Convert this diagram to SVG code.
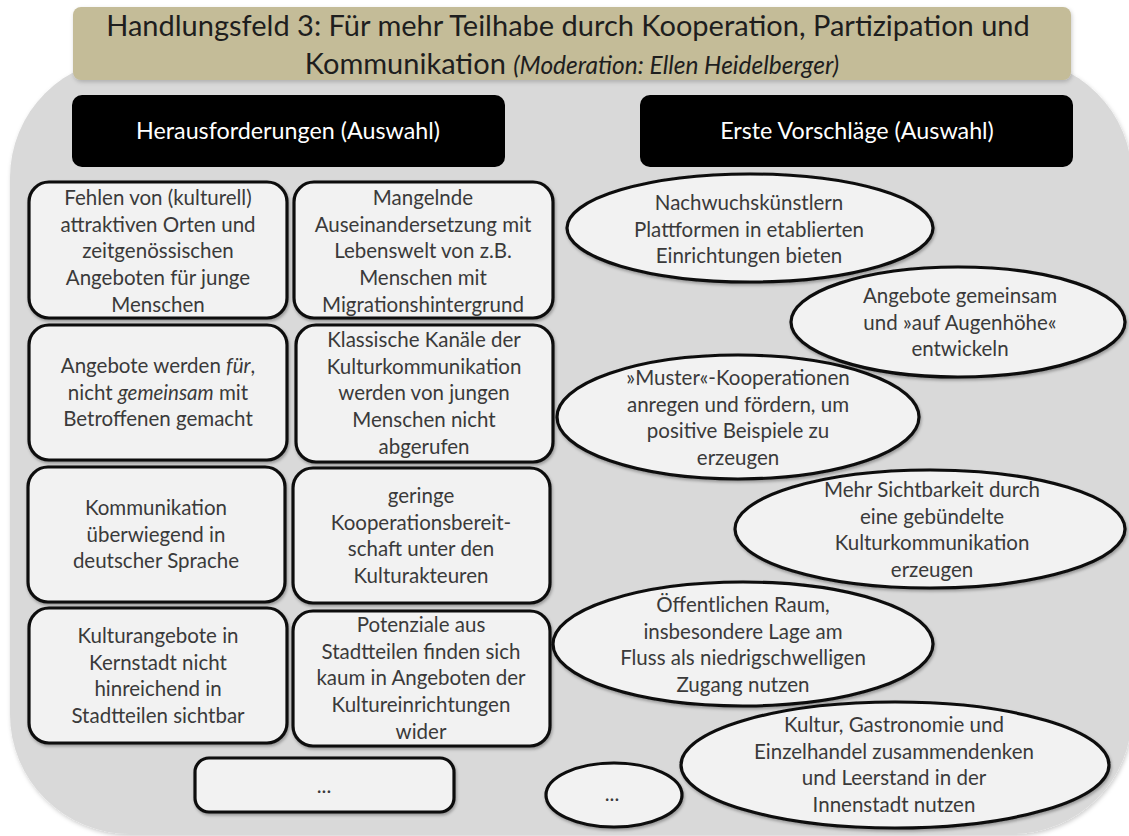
<svg xmlns="http://www.w3.org/2000/svg" width="1129" height="836" viewBox="0 0 1129 836">
<defs>
<filter id="sh" x="-10%" y="-10%" width="120%" height="130%">
<feDropShadow dx="1" dy="2" stdDeviation="1.5" flood-color="#000" flood-opacity="0.3"/>
</filter>
<filter id="shs" x="-5%" y="-10%" width="110%" height="130%">
<feDropShadow dx="1" dy="2" stdDeviation="2" flood-color="#000" flood-opacity="0.2"/>
</filter>
</defs>
<style>
.bg{fill:#d9d9d9;}
.banner{fill:#c4bc98;}
.hdr{fill:#000;}
.box{fill:#f2f2f2;stroke:#0d0d0d;stroke-width:3.2;}
.t{font-family:Lato,"Open Sans","DejaVu Sans",sans-serif;fill:#3a3a3a;font-size:20.5px;text-anchor:middle;}
.title{font-family:Lato,"Open Sans","DejaVu Sans",sans-serif;fill:#1e1e1e;font-size:29px;text-anchor:middle;}
.ht{font-family:Lato,"Open Sans","DejaVu Sans",sans-serif;fill:#fff;font-size:23.3px;text-anchor:middle;}
.i{font-style:italic;}
</style>
<rect class="bg" x="10" y="58" width="1122" height="776" rx="120" filter="url(#shs)"/>
<g id="title">
<rect class="banner" x="73" y="7" width="998" height="73" rx="8" filter="url(#shs)"/>
<text class="title" x="568" y="36">Handlungsfeld 3: Für mehr Teilhabe durch Kooperation, Partizipation und</text>
<text class="title" x="572" y="74">Kommunikation <tspan class="i" font-size="24.5">(Moderation: Ellen Heidelberger)</tspan></text>
</g>
<g id="hdr-left">
<rect class="hdr" x="72" y="95" width="433" height="72" rx="10"/>
<text class="ht" x="288" y="139">Herausforderungen (Auswahl)</text>
</g>
<g id="hdr-right">
<rect class="hdr" x="640" y="95" width="433" height="72" rx="10"/>
<text class="ht" x="857" y="139">Erste Vorschläge (Auswahl)</text>
</g>
<g id="c1">
<rect class="box" x="29" y="182" width="258" height="136" rx="20" filter="url(#sh)"/>
<text class="t" x="158" y="205">Fehlen von (kulturell)<tspan x="158" dy="26.7">attraktiven Orten und</tspan><tspan x="158" dy="26.7">zeitgenössischen</tspan><tspan x="158" dy="26.7">Angeboten für junge</tspan><tspan x="158" dy="26.7">Menschen</tspan></text>
</g>
<g id="c2">
<rect class="box" x="294" y="182" width="259" height="136" rx="20" filter="url(#sh)"/>
<text class="t" x="423" y="205">Mangelnde<tspan x="423" dy="26.7">Auseinandersetzung mit</tspan><tspan x="423" dy="26.7">Lebenswelt von z.B.</tspan><tspan x="423" dy="26.7">Menschen mit</tspan><tspan x="423" dy="26.7">Migrationshintergrund</tspan></text>
</g>
<g id="c3">
<rect class="box" x="29" y="325" width="258" height="135" rx="20" filter="url(#sh)"/>
<text class="t" x="158" y="373">Angebote werden <tspan class="i">für</tspan>,<tspan x="158" dy="26.7">nicht <tspan class="i">gemeinsam</tspan> mit</tspan><tspan x="158" dy="26.7">Betroffenen gemacht</tspan></text>
</g>
<g id="c4">
<rect class="box" x="296" y="325" width="257" height="137" rx="20" filter="url(#sh)"/>
<text class="t" x="424" y="347">Klassische Kanäle der<tspan x="424" dy="26.7">Kulturkommunikation</tspan><tspan x="424" dy="26.7">werden von jungen</tspan><tspan x="424" dy="26.7">Menschen nicht</tspan><tspan x="424" dy="26.7">abgerufen</tspan></text>
</g>
<g id="c5">
<rect class="box" x="28" y="467" width="257" height="135" rx="20" filter="url(#sh)"/>
<text class="t" x="156" y="515">Kommunikation<tspan x="156" dy="26.7">überwiegend in</tspan><tspan x="156" dy="26.7">deutscher Sprache</tspan></text>
</g>
<g id="c6">
<rect class="box" x="293" y="468" width="257" height="135" rx="20" filter="url(#sh)"/>
<text class="t" x="421" y="503">geringe<tspan x="421" dy="26.7">Kooperationsbereit-</tspan><tspan x="421" dy="26.7">schaft unter den</tspan><tspan x="421" dy="26.7">Kulturakteuren</tspan></text>
</g>
<g id="c7">
<rect class="box" x="29" y="608" width="258" height="135" rx="20" filter="url(#sh)"/>
<text class="t" x="158" y="643">Kulturangebote in<tspan x="158" dy="26.7">Kernstadt nicht</tspan><tspan x="158" dy="26.7">hinreichend in</tspan><tspan x="158" dy="26.7">Stadtteilen sichtbar</tspan></text>
</g>
<g id="c8">
<rect class="box" x="293" y="611" width="257" height="135" rx="20" filter="url(#sh)"/>
<text class="t" x="421" y="632">Potenziale aus<tspan x="421" dy="26.7">Stadtteilen finden sich</tspan><tspan x="421" dy="26.7">kaum in Angeboten der</tspan><tspan x="421" dy="26.7">Kultureinrichtungen</tspan><tspan x="421" dy="26.7">wider</tspan></text>
</g>
<g id="c9">
<rect class="box" x="195" y="758" width="259" height="54" rx="14" filter="url(#sh)"/>
<text class="t" x="324" y="793" font-size="14">...</text>
</g>
<g id="p1">
<ellipse class="box" cx="750" cy="228" rx="183" ry="54" filter="url(#sh)"/>
<text class="t" x="749" y="210">Nachwuchskünstlern<tspan x="749" dy="26.7">Plattformen in etablierten</tspan><tspan x="749" dy="26.7">Einrichtungen bieten</tspan></text>
</g>
<g id="p2">
<ellipse class="box" cx="958" cy="322" rx="167" ry="55" filter="url(#sh)"/>
<text class="t" x="960" y="303">Angebote gemeinsam<tspan x="960" dy="26.7">und »auf Augenhöhe«</tspan><tspan x="960" dy="26.7">entwickeln</tspan></text>
</g>
<g id="p3">
<ellipse class="box" cx="738" cy="417" rx="181" ry="62" filter="url(#sh)"/>
<text class="t" x="738" y="385">»Muster«-Kooperationen<tspan x="738" dy="26.7">anregen und fördern, um</tspan><tspan x="738" dy="26.7">positive Beispiele zu</tspan><tspan x="738" dy="26.7">erzeugen</tspan></text>
</g>
<g id="p4">
<ellipse class="box" cx="930" cy="529" rx="195" ry="59" filter="url(#sh)"/>
<text class="t" x="932" y="497">Mehr Sichtbarkeit durch<tspan x="932" dy="26.7">eine gebündelte</tspan><tspan x="932" dy="26.7">Kulturkommunikation</tspan><tspan x="932" dy="26.7">erzeugen</tspan></text>
</g>
<g id="p5">
<ellipse class="box" cx="743" cy="644" rx="190" ry="62" filter="url(#sh)"/>
<text class="t" x="743" y="612">Öffentlichen Raum,<tspan x="743" dy="26.7">insbesondere Lage am</tspan><tspan x="743" dy="26.7">Fluss als niedrigschwelligen</tspan><tspan x="743" dy="26.7">Zugang nutzen</tspan></text>
</g>
<g id="p6">
<ellipse class="box" cx="895" cy="765" rx="214" ry="63" filter="url(#sh)"/>
<text class="t" x="894" y="732">Kultur, Gastronomie und<tspan x="894" dy="26.7">Einzelhandel zusammendenken</tspan><tspan x="894" dy="26.7">und Leerstand in der</tspan><tspan x="894" dy="26.7">Innenstadt nutzen</tspan></text>
</g>
<g id="p7">
<ellipse class="box" cx="614" cy="795" rx="68" ry="32" filter="url(#sh)"/>
<text class="t" x="612" y="801" font-size="14">...</text>
</g>
<g id="connectors"/>
</svg>
